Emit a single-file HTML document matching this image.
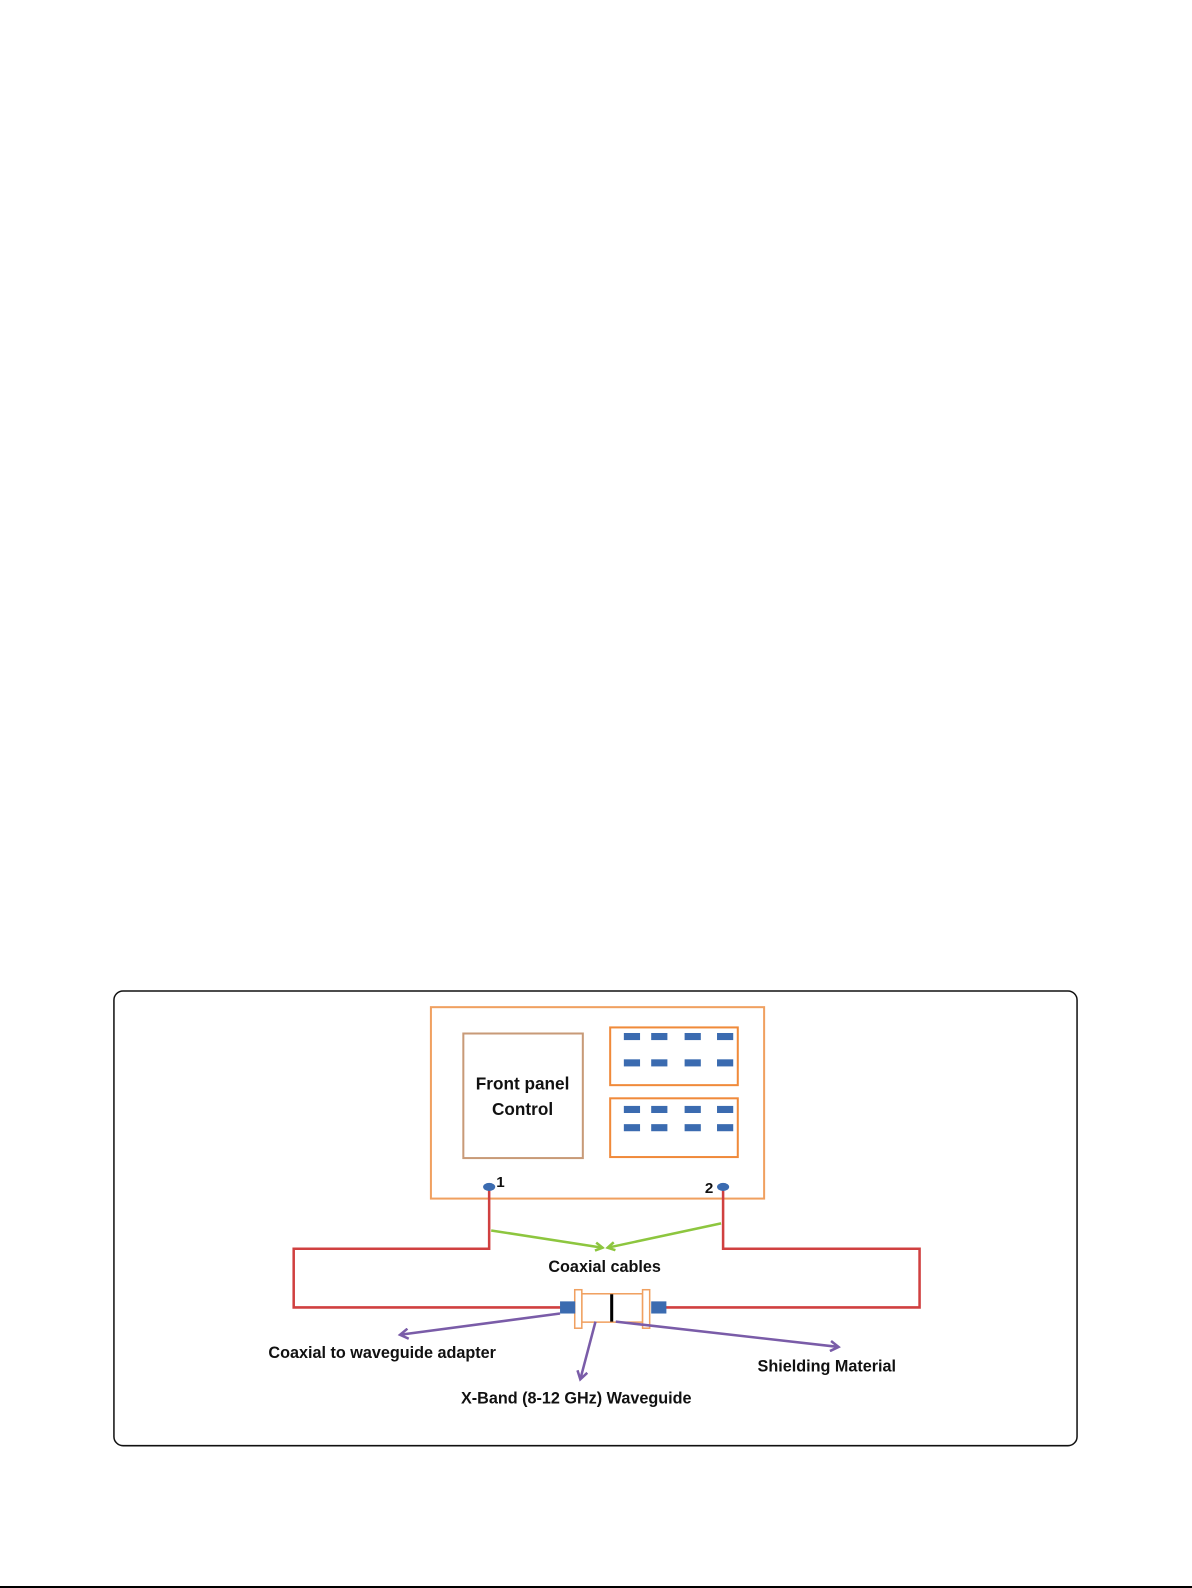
<!DOCTYPE html>
<html><head><meta charset="utf-8"><style>
html,body{margin:0;padding:0;background:#fff;width:1192px;height:1588px;overflow:hidden}
svg{display:block}
text{font-family:"Liberation Sans",sans-serif;font-weight:bold;fill:#111}
</style></head><body>
<svg width="1192" height="1588" viewBox="0 0 1192 1588" xmlns="http://www.w3.org/2000/svg">
<defs>
<marker id="g" markerWidth="10" markerHeight="10" refX="8" refY="5" orient="auto" markerUnits="userSpaceOnUse"><path d="M1,1 L8,5 L1,9" fill="none" stroke="#8dc63f" stroke-width="2.5"/></marker>
<marker id="p" markerWidth="12" markerHeight="12" refX="9" refY="6" orient="auto" markerUnits="userSpaceOnUse"><path d="M1,1 L9,6 L1,11" fill="none" stroke="#7a5ca8" stroke-width="2.5"/></marker>
</defs>
<line x1="0" y1="1587" x2="1192" y2="1587" stroke="#000" stroke-width="2"/>
<g transform="scale(1.01274)">
<rect x="112.5" y="978.5" width="951" height="449" rx="9" fill="none" stroke="#111" stroke-width="1.5"/>
<rect x="425.5" y="994.5" width="329" height="189" fill="none" stroke="#f0a060" stroke-width="2"/>
<rect x="457.5" y="1020.5" width="118" height="123" fill="none" stroke="#c89a78" stroke-width="2"/>
<text x="516" y="1076" text-anchor="middle" font-size="17">Front panel</text>
<text x="516" y="1101" text-anchor="middle" font-size="17">Control</text>
<rect x="602.5" y="1014.5" width="126" height="57" fill="none" stroke="#f08a3a" stroke-width="2"/>
<rect x="602.5" y="1084.5" width="126" height="58" fill="none" stroke="#f08a3a" stroke-width="2"/>
<g fill="#3b6bb0">
<rect x="616" y="1020" width="16" height="7"/><rect x="643" y="1020" width="16" height="7"/><rect x="676" y="1020" width="16" height="7"/><rect x="708" y="1020" width="16" height="7"/>
<rect x="616" y="1046" width="16" height="7"/><rect x="643" y="1046" width="16" height="7"/><rect x="676" y="1046" width="16" height="7"/><rect x="708" y="1046" width="16" height="7"/>
<rect x="616" y="1092" width="16" height="7"/><rect x="643" y="1092" width="16" height="7"/><rect x="676" y="1092" width="16" height="7"/><rect x="708" y="1092" width="16" height="7"/>
<rect x="616" y="1110" width="16" height="7"/><rect x="643" y="1110" width="16" height="7"/><rect x="676" y="1110" width="16" height="7"/><rect x="708" y="1110" width="16" height="7"/>
</g>
<polyline points="483,1172 483,1233 290,1233 290,1291 555,1291" fill="none" stroke="#d04040" stroke-width="2.5"/>
<polyline points="714,1172 714,1233 908,1233 908,1291 655,1291" fill="none" stroke="#d04040" stroke-width="2.5"/>
<ellipse cx="483" cy="1172" rx="6" ry="4" fill="#3b6bb0"/>
<ellipse cx="714" cy="1172" rx="6" ry="4" fill="#3b6bb0"/>
<text x="490" y="1172" font-size="15" font-weight="normal">1</text>
<text x="696" y="1178" font-size="15" font-weight="normal">2</text>
<line x1="485" y1="1215" x2="595" y2="1232" stroke="#8dc63f" stroke-width="2.5" marker-end="url(#g)"/>
<line x1="712" y1="1208" x2="600" y2="1232" stroke="#8dc63f" stroke-width="2.5" marker-end="url(#g)"/>
<text x="597" y="1256" text-anchor="middle" font-size="16">Coaxial cables</text>
<rect x="574.5" y="1277.5" width="60" height="28" fill="#fff" stroke="#f0a060" stroke-width="1.5"/>
<rect x="567.5" y="1273.5" width="7" height="38" fill="#fff" stroke="#f0a060" stroke-width="1.5"/>
<rect x="634.5" y="1273.5" width="7" height="38" fill="#fff" stroke="#f0a060" stroke-width="1.5"/>
<rect x="553" y="1285" width="15" height="12" fill="#3b6bb0"/>
<rect x="643" y="1285" width="15" height="12" fill="#3b6bb0"/>
<line x1="604" y1="1278" x2="604" y2="1305" stroke="#000" stroke-width="3"/>
<line x1="553" y1="1297" x2="395" y2="1318" stroke="#7a5ca8" stroke-width="2.5" marker-end="url(#p)"/>
<line x1="588" y1="1305" x2="573" y2="1362" stroke="#7a5ca8" stroke-width="2.5" marker-end="url(#p)"/>
<line x1="608" y1="1305" x2="828" y2="1330" stroke="#7a5ca8" stroke-width="2.5" marker-end="url(#p)"/>
<text x="265" y="1341" font-size="16">Coaxial to waveguide adapter</text>
<text x="748" y="1354" font-size="16">Shielding Material</text>
<text x="569" y="1386" text-anchor="middle" font-size="16">X-Band (8-12 GHz) Waveguide</text>
</g>
</svg>
</body></html>
